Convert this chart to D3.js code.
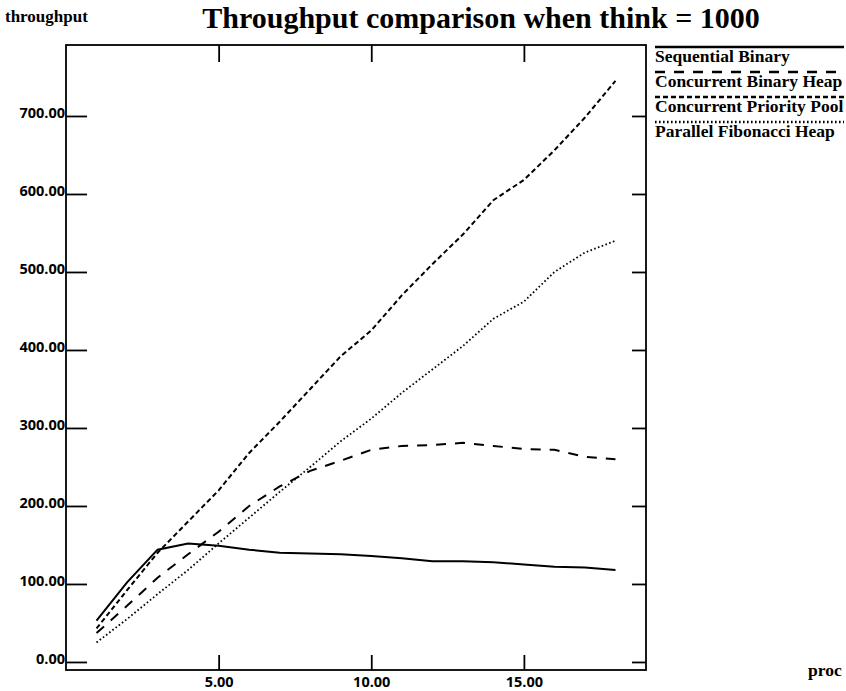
<!DOCTYPE html>
<html>
<head>
<meta charset="utf-8">
<script src="https://cdn.jsdelivr.net/npm/d3@7"></script>
<style>
  html, body { margin: 0; padding: 0; background: #fff; }
  svg { display: block; }
</style>
</head>
<body>
<svg id="chart" width="846" height="691"></svg>
<script>
// ---- data ----
const procs = [1,2,3,4,5,6,7,8,9,10,11,12,13,14,15,16,17,18];
const sequentialBinary      = [53,102,144,152,149,144,140,139,138,136,133,129,129,128,125,122,121,118];
const concurrentBinaryHeap  = [37,72,108,138,167,200,225,245,258,272,277,278,281,277,273,272,263,260];
const concurrentPriorityPool= [43,92,140,180,220,268,308,350,392,425,470,510,548,592,618,656,698,745];
const parallelFibonacciHeap = [25,55,87,118,152,185,218,250,283,312,345,375,405,440,462,500,525,540];
const seriesNames = ["Sequential Binary","Concurrent Binary Heap","Concurrent Priority Pool","Parallel Fibonacci Heap"];
const yTickValues = [0,100,200,300,400,500,600,700];
const xTickValues = [5,10,15];
const titleText = "Throughput comparison when think = 1000";
const yLabel = "throughput";
const xLabel = "proc";

(function () {
const seriesValues = [sequentialBinary, concurrentBinaryHeap, concurrentPriorityPool, parallelFibonacciHeap];
const dashes = [null, "10,9", "5,3", "1.6,2.4"];
const widths = [2, 2, 2, 1.8];

const svg = d3.select("#chart");
const mLeft = 66, mRight = 646, mTop = 45, mBottom = 670;

const x = d3.scaleLinear().domain([0, 19]).range([mLeft, mRight]);
const y = d3.scaleLinear().domain([-10.3, 791]).range([mBottom, mTop]);

const serif = "'Liberation Serif','Times New Roman',serif";
const tickFont = "'Open Sans',sans-serif";

// frame
svg.append("rect")
  .attr("x", mLeft).attr("y", mTop)
  .attr("width", mRight - mLeft).attr("height", mBottom - mTop)
  .attr("fill", "none").attr("stroke", "#000").attr("stroke-width", 1.8);

// axes
const gl = svg.append("g").attr("transform", `translate(${mLeft},0)`)
  .call(d3.axisLeft(y).tickValues(yTickValues).tickFormat(d3.format(".2f")).tickSize(-21).tickSizeOuter(0).tickPadding(1));
const gb = svg.append("g").attr("transform", `translate(0,${mBottom})`)
  .call(d3.axisBottom(x).tickValues(xTickValues).tickFormat(d3.format(".2f")).tickSize(-15).tickSizeOuter(0).tickPadding(5));
const gt = svg.append("g").attr("transform", `translate(0,${mTop})`)
  .call(d3.axisTop(x).tickValues(xTickValues).tickFormat("").tickSize(-17).tickSizeOuter(0));
const gr = svg.append("g").attr("transform", `translate(${mRight},0)`)
  .call(d3.axisRight(y).tickValues(yTickValues).tickFormat("").tickSize(-14).tickSizeOuter(0));

[gl, gb, gt, gr].forEach(g => {
  g.select(".domain").remove();
  g.selectAll(".tick line").attr("stroke", "#000").attr("stroke-width", 1.8);
  g.selectAll(".tick text").attr("fill", "#000")
    .style("font-family", tickFont).style("font-weight", 700).style("font-size", "14.5px");
});
gl.selectAll(".tick text").attr("dy", "0.1em");
gb.selectAll(".tick text").attr("dy", "0.85em");

// lines
const line = d3.line().x((d, i) => x(procs[i])).y(d => y(d));
seriesValues.forEach((vals, k) => {
  svg.append("path")
    .datum(vals)
    .attr("d", line)
    .attr("fill", "none")
    .attr("stroke", "#000")
    .attr("stroke-width", widths[k])
    .attr("stroke-dasharray", dashes[k]);
});

// legend
const lg = svg.append("g");
seriesNames.forEach((name, k) => {
  const ly = 47 + k * 25;
  lg.append("line")
    .attr("x1", 655).attr("x2", 844).attr("y1", ly).attr("y2", ly)
    .attr("stroke", "#000").attr("stroke-width", widths[k] + 0.6)
    .attr("stroke-dasharray", dashes[k]);
  lg.append("text")
    .attr("x", 655).attr("y", ly + 15)
    .style("font-family", serif).style("font-weight", 700).style("font-size", "17.5px")
    .text(name);
});

// title and axis labels
svg.append("text")
  .attr("x", 481).attr("y", 28).attr("text-anchor", "middle")
  .style("font-family", serif).style("font-weight", 700).style("font-size", "30px")
  .text(titleText);
svg.append("text")
  .attr("x", 5).attr("y", 22)
  .style("font-family", serif).style("font-weight", 700).style("font-size", "17px")
  .text(yLabel);
svg.append("text")
  .attr("x", 808).attr("y", 676)
  .style("font-family", serif).style("font-weight", 700).style("font-size", "17.5px")
  .text(xLabel);
})();
</script>
</body>
</html>
